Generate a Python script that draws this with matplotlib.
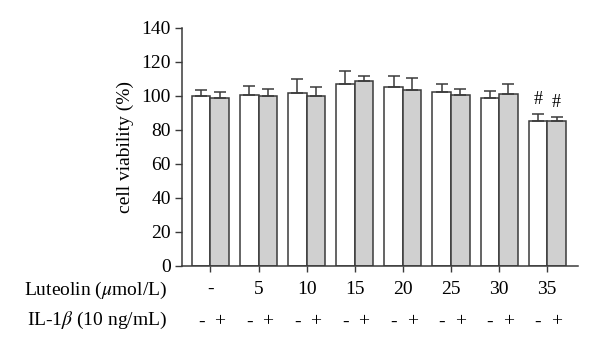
import numpy as np
import matplotlib.pyplot as plt

plt.rcParams['font.family'] = ['Liberation Serif', 'DejaVu Serif']
plt.rcParams['mathtext.fontset'] = 'stix'

# data
doses = ['-', '5', '10', '15', '20', '25', '30', '35']
ctrl_mean = [100, 100.5, 102, 107, 105, 102.5, 98.5, 85.5]
ctrl_err = [3.5, 5.5, 8.0, 7.5, 6.5, 4.5, 4.5, 3.8]
il1b_mean = [98.5, 100, 100, 108.5, 103.5, 100.5, 101, 85.5]
il1b_err = [3.8, 3.8, 5.3, 3.5, 6.8, 3.3, 6.2, 2.3]
signif = ['', '', '', '', '', '', '', '#']

line_col = '#3a3a3a'
fs = 14
fig = plt.figure(figsize=(6.0, 3.53), dpi=100)
ax = fig.add_axes([0.303, 0.2465, 0.66, 0.6745])

x = np.arange(len(doses))
w = 0.385
ekw = dict(ecolor=line_col, elinewidth=1.1, capsize=4, capthick=1.1)
ax.bar(x - w / 2, ctrl_mean, w, color='white', edgecolor=line_col, linewidth=1.1,
       yerr=[np.zeros(len(x)), ctrl_err], error_kw=ekw)
ax.bar(x + w / 2, il1b_mean, w, color='#d0d0d0', edgecolor=line_col, linewidth=1.1,
       yerr=[np.zeros(len(x)), il1b_err], error_kw=ekw)

for i, s in enumerate(signif):
    if s:
        ax.text(i - w / 2, ctrl_mean[i] + ctrl_err[i] + 3.5, s, ha='center', va='bottom', fontsize=13)
        ax.text(i + w / 2, il1b_mean[i] + il1b_err[i] + 3.5, s, ha='center', va='bottom', fontsize=13)

ax.set_xlim(-0.594, 7.635)
ax.set_ylim(0, 140)
ax.set_yticks(range(0, 141, 20))
ax.set_xticks(x)
ax.set_xticklabels([])
ax.set_ylabel('cell viability (%)', fontsize=fs, labelpad=5)
ax.tick_params(axis='y', labelsize=fs, length=5, width=1, color=line_col, pad=3)
ax.tick_params(axis='x', length=4, width=1, color=line_col)
for side in ['top', 'right']:
    ax.spines[side].set_visible(False)
for side in ['left', 'bottom']:
    ax.spines[side].set_color(line_col)
    ax.spines[side].set_linewidth(1.1)

# treatment rows under the axis
trans = ax.get_xaxis_transform()
for i, d in enumerate(doses):
    ax.text(i, -0.1, d, transform=trans, ha='center', va='center', fontsize=fs)
    ax.text(i - w / 2, -0.235, '-', transform=trans, ha='center', va='center', fontsize=fs)
    ax.text(i + w / 2, -0.235, '+', transform=trans, ha='center', va='center', fontsize=fs)

fig.text(0.278, 1 - 290 / 353, r'Luteolin ($\mu$mol/L)', ha='right', va='center', fontsize=fs)
fig.text(0.278, 1 - 320 / 353, r'IL-1$\beta$ (10 ng/mL)', ha='right', va='center', fontsize=fs)

fig.savefig('out.png', dpi=100)
